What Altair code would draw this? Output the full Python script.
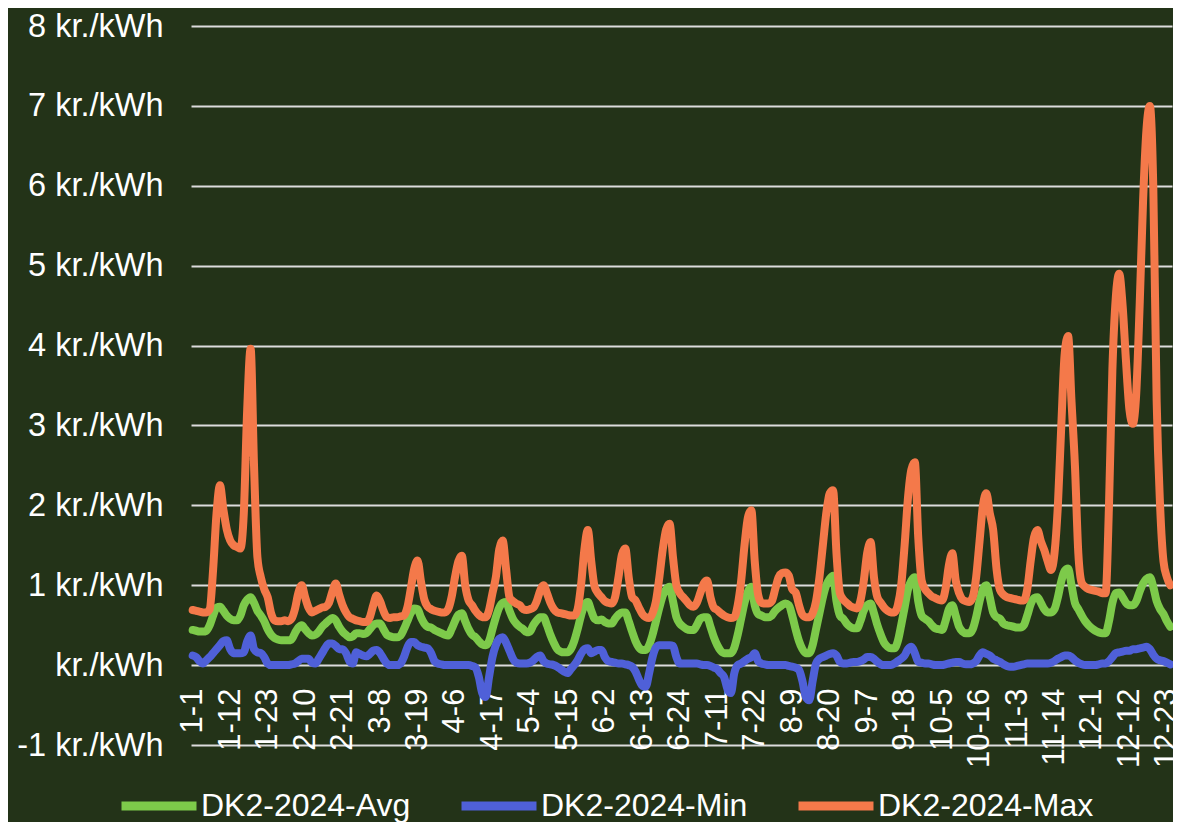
import altair as alt
import pandas as pd

# ---- categories (Excel category axis: days 1-24 of each month) ----
months = list(range(1, 13))
days = list(range(1, 25))
categories = [f"{m}-{d}" for m in months for d in days]
tick_labels = categories[::11]

# ---- series values (kr./kWh), one row per month block of 24 days ----
avg_vals = [
    0.44, 0.43, 0.42, 0.42, 0.43, 0.50, 0.62, 0.72, 0.73, 0.68, 0.62, 0.58, 0.56, 0.56, 0.62, 0.75, 0.82, 0.85, 0.78, 0.68, 0.62, 0.55, 0.45, 0.38,
    0.34, 0.32, 0.31, 0.31, 0.31, 0.32, 0.40, 0.47, 0.50, 0.45, 0.40, 0.37, 0.38, 0.42, 0.48, 0.52, 0.56, 0.59, 0.56, 0.48, 0.42, 0.38, 0.35, 0.36,
    0.40, 0.40, 0.39, 0.40, 0.45, 0.50, 0.52, 0.52, 0.45, 0.38, 0.36, 0.35, 0.35, 0.37, 0.45, 0.55, 0.65, 0.71, 0.70, 0.60, 0.52, 0.48, 0.47, 0.44,
    0.42, 0.40, 0.38, 0.37, 0.45, 0.55, 0.63, 0.65, 0.55, 0.45, 0.38, 0.35, 0.30, 0.26, 0.25, 0.30, 0.45, 0.60, 0.72, 0.78, 0.79, 0.68, 0.58, 0.52,
    0.48, 0.45, 0.41, 0.42, 0.50, 0.56, 0.60, 0.60, 0.50, 0.38, 0.28, 0.20, 0.17, 0.16, 0.16, 0.20, 0.30, 0.45, 0.62, 0.75, 0.79, 0.68, 0.58, 0.56,
    0.57, 0.54, 0.52, 0.52, 0.58, 0.63, 0.66, 0.66, 0.55, 0.42, 0.30, 0.22, 0.19, 0.19, 0.25, 0.38, 0.55, 0.72, 0.87, 0.95, 0.98, 0.80, 0.60, 0.52,
    0.48, 0.45, 0.44, 0.44, 0.50, 0.58, 0.60, 0.60, 0.48, 0.35, 0.25, 0.18, 0.15, 0.15, 0.15, 0.22, 0.38, 0.58, 0.78, 0.92, 0.98, 0.75, 0.64, 0.62,
    0.60, 0.60, 0.62, 0.68, 0.72, 0.75, 0.77, 0.75, 0.62, 0.45, 0.30, 0.20, 0.15, 0.15, 0.25, 0.45, 0.65, 0.85, 1.00, 1.08, 1.12, 0.80, 0.62, 0.58,
    0.52, 0.48, 0.46, 0.46, 0.55, 0.68, 0.75, 0.77, 0.65, 0.50, 0.38, 0.28, 0.23, 0.21, 0.21, 0.30, 0.50, 0.72, 0.95, 1.06, 1.10, 0.80, 0.62, 0.58,
    0.55, 0.50, 0.46, 0.45, 0.44, 0.55, 0.70, 0.75, 0.62, 0.48, 0.42, 0.40, 0.40, 0.45, 0.60, 0.80, 0.95, 1.00, 0.85, 0.66, 0.60, 0.58, 0.52, 0.50,
    0.49, 0.48, 0.47, 0.47, 0.50, 0.62, 0.76, 0.84, 0.85, 0.78, 0.70, 0.66, 0.66, 0.70, 0.85, 1.05, 1.18, 1.21, 1.00, 0.78, 0.70, 0.62, 0.55, 0.50,
    0.46, 0.43, 0.41, 0.40, 0.40, 0.55, 0.78, 0.90, 0.91, 0.85, 0.78, 0.75, 0.75, 0.80, 0.92, 1.02, 1.08, 1.10, 0.98, 0.80, 0.70, 0.64, 0.55, 0.48,
]

min_vals = [
    0.12, 0.10, 0.05, 0.02, 0.06, 0.10, 0.15, 0.20, 0.25, 0.30, 0.31, 0.20, 0.15, 0.15, 0.15, 0.16, 0.30, 0.37, 0.20, 0.16, 0.15, 0.10, 0.02, 0.00,
    0.00, 0.00, 0.00, 0.00, 0.00, 0.01, 0.02, 0.05, 0.08, 0.08, 0.08, 0.03, 0.02, 0.08, 0.15, 0.22, 0.27, 0.27, 0.24, 0.20, 0.20, 0.15, 0.05, 0.02,
    0.16, 0.14, 0.12, 0.11, 0.14, 0.18, 0.19, 0.15, 0.08, 0.02, 0.00, 0.00, 0.00, 0.02, 0.10, 0.22, 0.29, 0.29, 0.25, 0.23, 0.22, 0.21, 0.15, 0.05,
    0.02, 0.01, 0.00, 0.00, 0.00, 0.00, 0.00, 0.00, 0.00, 0.00, -0.01, -0.03, -0.15, -0.35, -0.40, -0.15, 0.10, 0.25, 0.33, 0.35, 0.28, 0.18, 0.08, 0.03,
    0.02, 0.02, 0.02, 0.03, 0.06, 0.10, 0.12, 0.05, 0.02, 0.01, 0.00, -0.02, -0.05, -0.08, -0.10, -0.05, 0.00, 0.06, 0.14, 0.20, 0.21, 0.15, 0.17, 0.19,
    0.19, 0.10, 0.05, 0.04, 0.03, 0.02, 0.02, 0.01, 0.00, -0.02, -0.08, -0.18, -0.26, -0.27, -0.10, 0.10, 0.22, 0.25, 0.25, 0.25, 0.25, 0.24, 0.10, 0.02,
    0.02, 0.02, 0.02, 0.02, 0.02, 0.01, 0.00, 0.00, -0.01, -0.03, -0.05, -0.10, -0.15, -0.30, -0.35, -0.10, 0.00, 0.02, 0.05, 0.08, 0.10, 0.15, 0.05, 0.02,
    0.01, 0.00, 0.00, 0.00, 0.00, 0.00, 0.00, -0.01, -0.02, -0.03, -0.06, -0.20, -0.40, -0.44, -0.20, 0.02, 0.08, 0.10, 0.12, 0.14, 0.15, 0.12, 0.04, 0.02,
    0.02, 0.03, 0.04, 0.04, 0.05, 0.07, 0.10, 0.10, 0.08, 0.04, 0.01, 0.00, 0.00, 0.00, 0.02, 0.05, 0.08, 0.12, 0.20, 0.23, 0.15, 0.04, 0.03, 0.02,
    0.02, 0.01, 0.00, 0.00, 0.00, 0.01, 0.02, 0.03, 0.04, 0.04, 0.02, 0.01, 0.01, 0.02, 0.05, 0.12, 0.16, 0.14, 0.12, 0.08, 0.06, 0.04, 0.01, -0.01,
    -0.02, -0.02, -0.01, 0.00, 0.01, 0.02, 0.02, 0.02, 0.02, 0.02, 0.02, 0.02, 0.03, 0.05, 0.08, 0.10, 0.12, 0.12, 0.10, 0.06, 0.03, 0.01, 0.00, 0.00,
    0.00, 0.00, 0.01, 0.02, 0.02, 0.05, 0.10, 0.15, 0.16, 0.17, 0.18, 0.18, 0.20, 0.20, 0.21, 0.22, 0.23, 0.20, 0.13, 0.08, 0.06, 0.05, 0.03, 0.01,
]

max_vals = [
    0.69, 0.68, 0.67, 0.66, 0.66, 0.70, 1.20, 1.90, 2.25, 1.95, 1.70, 1.56, 1.50, 1.48, 1.46, 1.90, 3.20, 3.96, 2.50, 1.35, 1.10, 0.95, 0.85, 0.65,
    0.56, 0.55, 0.55, 0.56, 0.55, 0.58, 0.70, 0.90, 1.00, 0.85, 0.72, 0.66, 0.68, 0.70, 0.72, 0.73, 0.78, 0.92, 1.02, 0.88, 0.75, 0.66, 0.60, 0.58,
    0.56, 0.55, 0.54, 0.54, 0.60, 0.75, 0.87, 0.80, 0.68, 0.60, 0.59, 0.60, 0.60, 0.61, 0.62, 0.72, 0.95, 1.20, 1.31, 1.05, 0.82, 0.73, 0.70, 0.68,
    0.67, 0.66, 0.66, 0.70, 0.85, 1.10, 1.30, 1.37, 1.00, 0.81, 0.75, 0.68, 0.63, 0.60, 0.60, 0.69, 0.90, 1.10, 1.45, 1.56, 1.20, 0.85, 0.80, 0.77,
    0.75, 0.70, 0.69, 0.70, 0.72, 0.80, 0.93, 1.00, 0.90, 0.78, 0.70, 0.66, 0.65, 0.64, 0.63, 0.62, 0.62, 0.70, 1.00, 1.45, 1.69, 1.30, 0.98, 0.90,
    0.85, 0.80, 0.78, 0.77, 0.85, 1.10, 1.38, 1.46, 1.10, 0.85, 0.81, 0.72, 0.64, 0.60, 0.59, 0.65, 0.80, 1.10, 1.45, 1.70, 1.77, 1.35, 1.00, 0.90,
    0.85, 0.80, 0.75, 0.73, 0.78, 0.90, 1.02, 1.06, 0.85, 0.72, 0.69, 0.65, 0.62, 0.60, 0.59, 0.60, 0.75, 1.05, 1.50, 1.85, 1.94, 1.30, 0.88, 0.78,
    0.77, 0.77, 0.80, 0.95, 1.10, 1.15, 1.16, 1.12, 0.95, 0.91, 0.75, 0.63, 0.60, 0.60, 0.65, 0.80, 1.10, 1.50, 1.90, 2.15, 2.19, 1.40, 0.90, 0.82,
    0.78, 0.74, 0.72, 0.71, 0.80, 1.05, 1.40, 1.54, 1.10, 0.85, 0.78, 0.72, 0.68, 0.66, 0.66, 0.75, 1.00, 1.50, 2.10, 2.45, 2.54, 1.60, 1.06, 0.95,
    0.90, 0.86, 0.84, 0.82, 0.81, 0.95, 1.25, 1.40, 1.06, 0.90, 0.82, 0.80, 0.79, 0.85, 1.10, 1.55, 2.00, 2.15, 1.90, 1.69, 1.20, 0.94, 0.88, 0.85,
    0.84, 0.83, 0.82, 0.81, 0.81, 0.95, 1.30, 1.60, 1.69, 1.55, 1.44, 1.30, 1.19, 1.40, 2.00, 3.00, 3.90, 4.12, 3.30, 2.50, 1.40, 1.03, 0.98, 0.95,
    0.94, 0.93, 0.92, 0.90, 0.90, 2.00, 3.70, 4.60, 4.90, 4.50, 3.80, 3.20, 3.02, 3.40, 4.50, 5.80, 6.70, 7.00, 6.00, 3.30, 2.00, 1.30, 1.10, 1.00,
]

series_names = ["DK2-2024-Avg", "DK2-2024-Min", "DK2-2024-Max"]
series_colors = ["#7dca4a", "#4f60d8", "#f4794a"]
y_ticks = [-1, 0, 1, 2, 3, 4, 5, 6, 7, 8]

rows = []
for name, vals in zip(series_names, [avg_vals, min_vals, max_vals]):
    for i, (c, v) in enumerate(zip(categories, vals)):
        rows.append({"cat": c, "idx": i, "series": name, "value": v})
df = pd.DataFrame(rows)

FONT = "Liberation Sans"
FS = 31

color = alt.Color(
    "series:N",
    scale=alt.Scale(domain=series_names, range=series_colors),
    legend=alt.Legend(
        orient="none", legendX=-74, legendY=738, direction="horizontal",
        title=None, symbolType="stroke", symbolSize=5625, symbolStrokeWidth=9,
        labelFontSize=32, labelColor="white", labelFont=FONT, labelLimit=600,
        columnPadding=32, labelOffset=0, padding=0, columns=3,
    ),
)

x = alt.X(
    "cat:O", sort=categories,
    scale=alt.Scale(type="point", padding=0.5),
    axis=alt.Axis(
        values=tick_labels, title=None, labelAngle=-90, ticks=False, domain=False,
        grid=False, labelPadding=23, offset=-79.9, labelFontSize=FS,
        labelColor="white", labelFont=FONT, labelOverlap=False, labelFlush=False,
        labelBound=False,
    ),
)
y = alt.Y(
    "value:Q",
    scale=alt.Scale(domain=[-1, 8], nice=False, zero=False),
    axis=alt.Axis(
        values=y_ticks, title=None, ticks=False, domain=False, grid=True,
        gridColor="#dcdcdc", gridWidth=2, labelPadding=28, labelFontSize=32.5,
        labelColor="white", labelFont=FONT,
        labelExpr="datum.value == 0 ? ' kr./kWh' : datum.value + ' kr./kWh'",
    ),
)

layers = []
for name in series_names:
    layers.append(
        alt.Chart(df)
        .transform_filter(alt.datum.series == name)
        .mark_line(strokeWidth=8, interpolate="monotone", strokeCap="round", strokeJoin="round")
        .encode(x=x, y=y, color=color, order=alt.Order("idx:Q"))
    )

chart = (
    alt.layer(*layers)
    .properties(
        width=981, height=719,
        autosize=alt.AutoSizeParams(type="none"),
        padding={"left": 183, "top": 18, "right": 1, "bottom": 77},
        background="#233318",
    )
    .configure_view(strokeWidth=0)
)

chart.save("out.html", embed_options={"renderer": "svg", "actions": False})
